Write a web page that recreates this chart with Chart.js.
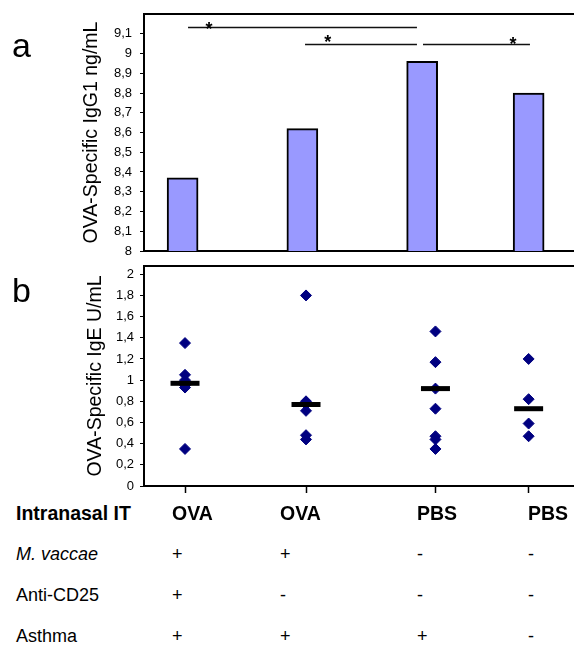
<!DOCTYPE html>
<html>
<head>
<meta charset="utf-8">
<script src="https://cdn.jsdelivr.net/npm/chart.js@4/dist/chart.umd.min.js"></script>
<style>
body{margin:0;background:#fff;font-family:"Liberation Sans",Arial,sans-serif;}
#page{position:relative;width:574px;height:645px;overflow:hidden;background:#fff;}
.box{position:absolute;left:0;width:574px;}
.t{position:absolute;white-space:nowrap;color:#000;}
</style>
</head>
<body>
<div id="page">
<div class="box" style="top:0;height:258px"><canvas id="chartA"></canvas></div>
<div class="box" style="top:255px;height:245px"><canvas id="chartB"></canvas></div>
<div class="t" style="left:12px;top:28px;font-size:34px;line-height:34px">a</div>
<div class="t" style="left:12px;top:273px;font-size:34px;line-height:34px">b</div>
<div id="table"></div>
</div>
<script>
// groups (same order in both panels and the table)
const intranasal = ["OVA", "OVA", "PBS", "PBS"];
const vaccae = ["+", "+", "-", "-"];
const antiCD25 = ["+", "-", "-", "-"];
const asthma = ["+", "+", "+", "-"];

// position of each group on the x axis
const groupPosA = [0.98, 1.97, 2.96, 3.84];
const groupPosB = [1, 2, 3.07, 3.84];

// panel a: IgG1 ng/mL
const igg1 = [8.37, 8.62, 8.96, 8.80];

// significance bars of panel a
const sigFrom = [1.025, 1.992, 2.967];
const sigTo = [2.917, 2.917, 3.851];
const sigLevel = [9.132, 9.046, 9.046];
const sigStarAt = [1.198, 2.179, 3.711];
const sigStarLevel = [9.147, 9.08, 9.071];

// panel b: IgE U/mL, single animals and medians
const ige1 = [1.35, 1.05, 1.0, 0.95, 0.93, 0.35];
const ige2 = [1.8, 0.8, 0.77, 0.71, 0.48, 0.44];
const ige3 = [1.46, 1.17, 0.92, 0.73, 0.47, 0.44, 0.35];
const ige4 = [1.2, 0.82, 0.59, 0.47];
const igeMedian = [0.97, 0.77, 0.92, 0.73];

const xMin = 0.661, xMax = 4.215;

Chart.defaults.font.family = "'Liberation Sans', Arial, sans-serif";
Chart.defaults.color = "#000";

function comma(v){
  return (Math.round(v * 10) / 10).toString().replace(".", ",");
}

// top side of the frame
const topFrame = {
  id: "topFrame",
  afterDraw(chart){
    const a = chart.chartArea, ctx = chart.ctx;
    ctx.save();
    ctx.strokeStyle = "#000";
    ctx.lineWidth = 2;
    ctx.beginPath();
    ctx.moveTo(a.left - 1, a.top);
    ctx.lineTo(a.right, a.top);
    ctx.stroke();
    ctx.restore();
  }
};

const sigBars = {
  id: "sigBars",
  afterDatasetsDraw(chart){
    const ctx = chart.ctx, xs = chart.scales.x, ys = chart.scales.y;
    ctx.save();
    ctx.strokeStyle = "#111";
    ctx.lineWidth = 1.5;
    ctx.fillStyle = "#000";
    ctx.font = "bold 18px 'Liberation Sans', Arial, sans-serif";
    ctx.textAlign = "center";
    for (let i = 0; i < sigFrom.length; i++) {
      const y = Math.round(ys.getPixelForValue(sigLevel[i])) + 0.5;
      ctx.beginPath();
      ctx.moveTo(xs.getPixelForValue(sigFrom[i]), y);
      ctx.lineTo(xs.getPixelForValue(sigTo[i]), y);
      ctx.stroke();
      ctx.fillText("*", xs.getPixelForValue(sigStarAt[i]), ys.getPixelForValue(sigStarLevel[i]) + 10.5);
    }
    ctx.restore();
  }
};

function noPad(s){
  s.paddingTop = 0;
  s.paddingBottom = 0;
}

new Chart(document.getElementById("chartA"), {
  type: "bar",
  data: {
    datasets: [{
      data: groupPosA.map((x, i) => ({x: x, y: igg1[i]})),
      backgroundColor: "#9999ff",
      borderColor: "#000",
      borderWidth: 2,
      barThickness: 31
    }]
  },
  options: {
    responsive: true,
    maintainAspectRatio: false,
    animation: false,
    events: [],
    layout: {autoPadding: false, padding: {top: 14, left: 0, right: 0, bottom: 0}},
    plugins: {legend: {display: false}, tooltip: {enabled: false}},
    scales: {
      x: {
        type: "linear", min: xMin, max: xMax, offset: false,
        grid: {display: false},
        ticks: {display: false},
        border: {display: true, color: "#000", width: 2},
        afterFit: s => { s.height = 7; s.paddingLeft = 0; s.paddingRight = 0; }
      },
      y: {
        min: 8, max: 9.2,
        ticks: {stepSize: 0.1, padding: 8, font: {size: 13}, callback: v => comma(v)},
        grid: {drawOnChartArea: false, tickLength: 4, color: "#000"},
        border: {color: "#000", width: 2},
        title: {display: true, text: "OVA-Specific IgG1 ng/mL", font: {size: 19.5}, padding: {top: 80, bottom: 0}},
        afterBuildTicks: s => { s.ticks = s.ticks.filter(t => t.value < 9.15); },
        afterFit: s => { s.width = 144; noPad(s); }
      }
    }
  },
  plugins: [topFrame, sigBars]
});

const igeGroups = [ige1, ige2, ige3, ige4];
const igePoints = [];
igeGroups.forEach((g, i) => g.forEach(v => igePoints.push({x: groupPosB[i], y: v})));

new Chart(document.getElementById("chartB"), {
  type: "scatter",
  data: {
    datasets: [{
      data: igeMedian.map((m, i) => ({x: groupPosB[i], y: m})),
      pointStyle: "line",
      pointRadius: 14.5,
      borderWidth: 5,
      borderColor: "#000",
      order: 0
    }, {
      data: igePoints,
      pointStyle: "rectRot",
      pointRadius: 5.5,
      backgroundColor: "#000080",
      borderColor: "#000080",
      borderWidth: 1,
      order: 1
    }]
  },
  options: {
    responsive: true,
    maintainAspectRatio: false,
    animation: false,
    events: [],
    layout: {autoPadding: false, padding: {top: 11, left: 0, right: 0, bottom: 0}},
    plugins: {legend: {display: false}, tooltip: {enabled: false}},
    scales: {
      x: {
        type: "linear", min: xMin, max: xMax, offset: false,
        grid: {drawOnChartArea: false, tickLength: 9, color: "#000", tickWidth: 1.5, tickBorderDash: [6, 2]},
        ticks: {display: false},
        border: {display: true, color: "#000", width: 2},
        afterBuildTicks: s => { s.ticks = groupPosB.map(v => ({value: v})); },
        afterFit: s => { s.height = 14; s.paddingLeft = 0; s.paddingRight = 0; }
      },
      y: {
        min: 0, max: 2.078,
        ticks: {stepSize: 0.2, includeBounds: false, padding: 6, font: {size: 13}, callback: v => comma(v)},
        grid: {drawOnChartArea: false, tickLength: 4, color: "#000"},
        border: {color: "#000", width: 2},
        title: {display: true, text: "OVA-Specific IgE U/mL", font: {size: 19.5}, padding: {top: 84, bottom: 0}},
        afterBuildTicks: s => { s.ticks = s.ticks.filter(t => t.value < 2.01); },
        afterFit: s => { s.width = 144; noPad(s); }
      }
    }
  },
  plugins: [topFrame]
});

// treatment table under panel b
const rowLabels = ["Intranasal IT", "M. vaccae", "Anti-CD25", "Asthma"];
const rowValues = [intranasal, vaccae, antiCD25, asthma];
const rowBaseline = [520, 560, 601, 642];
const colLeft = [172, 280, 417, 528];
const table = document.getElementById("table");
function addText(txt, left, baseline, size, style){
  const d = document.createElement("div");
  d.className = "t";
  d.textContent = txt;
  d.style.left = left + "px";
  d.style.fontSize = size + "px";
  d.style.lineHeight = size + "px";
  d.style.top = (baseline - size * 0.845) + "px";
  if (style) d.style.cssText += style;
  table.appendChild(d);
}
rowLabels.forEach((lab, r) => {
  const head = r === 0;
  const size = head ? 19.5 : 18;
  const style = head ? "font-weight:bold;" : (r === 1 ? "font-style:italic;" : "");
  addText(lab, 16, rowBaseline[r], size, style);
  rowValues[r].forEach((v, c) => addText(v, colLeft[c], rowBaseline[r], size, head ? "font-weight:bold;" : ""));
});
</script>
</body>
</html>
